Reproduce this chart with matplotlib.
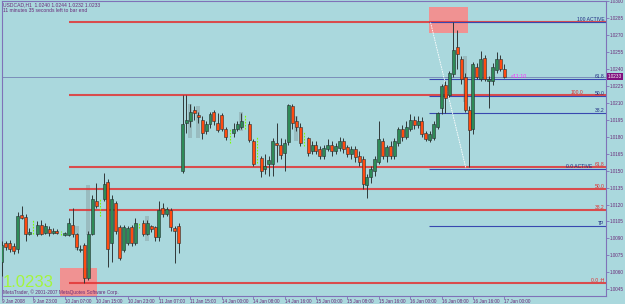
import matplotlib
matplotlib.use('Agg')
import matplotlib.pyplot as plt
from matplotlib.patches import Rectangle

# USDCAD H1 bars, 9 Jan 15:00 .. 17 Jan 00:00
opens = [1.0069, 1.0086, 1.0086, 1.0083, 1.0081, 1.0111, 1.0109, 1.0094, 1.0095, 1.0094,
         1.0102, 1.0095, 1.0098, 1.0095, 1.0097, 1.0095, 1.0093, 1.0093, 1.0102, 1.0094,
         1.0080, 1.0084, 1.0055, 1.0094, 1.0123, 1.0120, 1.0125, 1.0140, 1.0086, 1.0121,
         1.0100, 1.0080, 1.0086, 1.0100, 1.0086, 1.0101, 1.0104, 1.0094, 1.0101, 1.0100,
         1.0091, 1.0117, 1.0112, 1.0115, 1.0099, 1.0101, 1.0150, 1.0192, 1.0194, 1.0204,
         1.0199, 1.0195, 1.0185, 1.0191, 1.0202, 1.0192, 1.0199, 1.0187, 1.0181, 1.0183,
         1.0187, 1.0189, 1.0194, 1.0191, 1.0176, 1.0160, 1.0161, 1.0151, 1.0156, 1.0156,
         1.0174, 1.0173, 1.0166, 1.0175, 1.0207, 1.0194, 1.0189, 1.0180, 1.0179, 1.0167,
         1.0173, 1.0169, 1.0163, 1.0169, 1.0173, 1.0167, 1.0170, 1.0176, 1.0171, 1.0165,
         1.0169, 1.0163, 1.0160, 1.0137, 1.0144, 1.0150, 1.0158, 1.0176, 1.0163, 1.0172,
         1.0163, 1.0174, 1.0187, 1.0180, 1.0187, 1.0195, 1.0190, 1.0194, 1.0183, 1.0177,
         1.0179, 1.0189, 1.0205, 1.0226, 1.0217, 1.0235, 1.0259, 1.0249, 1.0233, 1.0204,
         1.0187, 1.0242, 1.0231, 1.0250, 1.0229, 1.0229, 1.0239, 1.0249, 1.0240]
highs = [1.0088, 1.0088, 1.0089, 1.0086, 1.0113, 1.0119, 1.0112, 1.0099, 1.0107, 1.0105,
         1.0106, 1.0104, 1.0101, 1.0099, 1.0098, 1.0097, 1.0096, 1.0108, 1.0117, 1.0095,
         1.0084, 1.0086, 1.0097, 1.0128, 1.0139, 1.0125, 1.0148, 1.0143, 1.0128, 1.0123,
         1.0102, 1.0102, 1.0101, 1.0102, 1.0108, 1.0104, 1.0106, 1.0106, 1.0102, 1.0101,
         1.0123, 1.0121, 1.0118, 1.0117, 1.0101, 1.0104, 1.0217, 1.0217, 1.0209, 1.0207,
         1.0202, 1.0198, 1.0194, 1.0202, 1.0204, 1.0201, 1.0201, 1.0189, 1.0187, 1.0192,
         1.0194, 1.0201, 1.0200, 1.0194, 1.0178, 1.0180, 1.0163, 1.0165, 1.0163, 1.0179,
         1.0192, 1.0179, 1.0178, 1.0209, 1.0209, 1.0198, 1.0192, 1.0185, 1.0180, 1.0176,
         1.0176, 1.0172, 1.0173, 1.0178, 1.0176, 1.0174, 1.0180, 1.0179, 1.0173, 1.0172,
         1.0172, 1.0167, 1.0163, 1.0147, 1.0154, 1.0163, 1.0194, 1.0179, 1.0173, 1.0176,
         1.0179, 1.0189, 1.0190, 1.0194, 1.0200, 1.0198, 1.0198, 1.0197, 1.0185, 1.0185,
         1.0194, 1.0202, 1.0227, 1.0229, 1.0238, 1.0281, 1.0274, 1.0251, 1.0236, 1.0207,
         1.0246, 1.0245, 1.0256, 1.0252, 1.0234, 1.0245, 1.0255, 1.0252, 1.0244]
lows = [1.0057, 1.0080, 1.0078, 1.0076, 1.0077, 1.0107, 1.0088, 1.0093, 1.0094, 1.0092,
        1.0093, 1.0094, 1.0092, 1.0094, 1.0094, 1.0093, 1.0092, 1.0092, 1.0091, 1.0080,
        1.0078, 1.0051, 1.0053, 1.0093, 1.0117, 1.0110, 1.0123, 1.0065, 1.0069, 1.0094,
        1.0071, 1.0078, 1.0084, 1.0083, 1.0084, 1.0099, 1.0092, 1.0093, 1.0096, 1.0088,
        1.0088, 1.0109, 1.0110, 1.0097, 1.0068, 1.0077, 1.0148, 1.0183, 1.0189, 1.0195,
        1.0192, 1.0178, 1.0182, 1.0188, 1.0190, 1.0184, 1.0185, 1.0177, 1.0174, 1.0180,
        1.0185, 1.0187, 1.0187, 1.0175, 1.0154, 1.0157, 1.0144, 1.0147, 1.0145, 1.0145,
        1.0158, 1.0160, 1.0150, 1.0173, 1.0187, 1.0185, 1.0172, 1.0172, 1.0163, 1.0165,
        1.0165, 1.0160, 1.0160, 1.0167, 1.0163, 1.0165, 1.0167, 1.0166, 1.0162, 1.0160,
        1.0158, 1.0154, 1.0134, 1.0126, 1.0139, 1.0145, 1.0156, 1.0160, 1.0158, 1.0160,
        1.0160, 1.0172, 1.0176, 1.0178, 1.0185, 1.0187, 1.0188, 1.0180, 1.0176, 1.0175,
        1.0177, 1.0187, 1.0200, 1.0201, 1.0215, 1.0233, 1.0240, 1.0227, 1.0202, 1.0153,
        1.0182, 1.0231, 1.0229, 1.0229, 1.0205, 1.0226, 1.0236, 1.0238, 1.0232]
closes = [1.0084, 1.0082, 1.0081, 1.0079, 1.0110, 1.0108, 1.0094, 1.0096, 1.0095, 1.0102,
          1.0094, 1.0101, 1.0095, 1.0097, 1.0095, 1.0095, 1.0095, 1.0104, 1.0094, 1.0082,
          1.0081, 1.0055, 1.0094, 1.0125, 1.0119, 1.0120, 1.0138, 1.0081, 1.0125, 1.0097,
          1.0073, 1.0100, 1.0099, 1.0086, 1.0104, 1.0101, 1.0094, 1.0104, 1.0098, 1.0091,
          1.0115, 1.0112, 1.0116, 1.0100, 1.0097, 1.0086, 1.0191, 1.0195, 1.0202, 1.0201,
          1.0197, 1.0183, 1.0191, 1.0200, 1.0194, 1.0186, 1.0187, 1.0180, 1.0181, 1.0187,
          1.0191, 1.0194, 1.0194, 1.0177, 1.0156, 1.0160, 1.0150, 1.0154, 1.0159, 1.0176,
          1.0173, 1.0164, 1.0174, 1.0208, 1.0192, 1.0189, 1.0174, 1.0180, 1.0166, 1.0173,
          1.0167, 1.0163, 1.0170, 1.0173, 1.0167, 1.0172, 1.0176, 1.0169, 1.0165, 1.0169,
          1.0162, 1.0158, 1.0138, 1.0144, 1.0151, 1.0160, 1.0178, 1.0163, 1.0171, 1.0163,
          1.0176, 1.0187, 1.0180, 1.0189, 1.0195, 1.0190, 1.0194, 1.0182, 1.0178, 1.0182,
          1.0191, 1.0201, 1.0225, 1.0214, 1.0236, 1.0257, 1.0253, 1.0231, 1.0204, 1.0186,
          1.0244, 1.0233, 1.0249, 1.0231, 1.0231, 1.0242, 1.0249, 1.0240, 1.0233]

# faint grey "shadow" bars seen behind some candles
ghost_idx = [19, 22, 37, 48, 50, 61, 75, 118]
ghost_hi = [1.0101, 1.0137, 1.0110, 1.0209, 1.0207, 1.0202, 1.0198, 1.0251]
ghost_lo = [1.0080, 1.0093, 1.0088, 1.0179, 1.0179, 1.0185, 1.0176, 1.0211]

time_idx = [0, 8, 16, 24, 32, 40, 48, 56, 64, 72, 80, 88, 96, 104, 112, 120, 128]
time_labels = ['9 Jan 2008', '9 Jan 23:00', '10 Jan 07:00', '10 Jan 15:00', '10 Jan 23:00',
               '11 Jan 07:00', '11 Jan 15:00', '14 Jan 00:00', '14 Jan 08:00', '14 Jan 16:00',
               '15 Jan 00:00', '15 Jan 08:00', '15 Jan 16:00', '16 Jan 00:00', '16 Jan 08:00',
               '16 Jan 16:00', '17 Jan 00:00']
price_ticks = [1.0045, 1.0060, 1.0075, 1.0090, 1.0105, 1.0120, 1.0135, 1.0150, 1.0165,
               1.0180, 1.0195, 1.0210, 1.0225, 1.0240, 1.0255, 1.0270, 1.0285, 1.0300]

# fibo objects (the red 138.2 caption sits hidden under "100 ACTIVE")
red_start = 17
red_levels = [1.0281, 1.0217, 1.0153, 1.0134, 1.0115, 1.0051]
red_names = ['', '100.0', '61.8', '50.0', '38.2', '0.0 :H']
blue_start = 108.8
blue_levels = [1.0281, 1.0231, 1.0216, 1.0201, 1.0151, 1.0101]
blue_names = ['100 ACTIVE', '61.8', '50.0', '38.2', '0.0 ACTIVE', 'TP']
fib_anchor_x = [109.2, 118.2]
fib_anchor_p = [1.0281, 1.0152]

# highlighted rectangles
zone_x0 = [108.8, 14.9]
zone_x1 = [118.8, 24.1]
zone_lo = [1.0272, 1.0030]
zone_hi = [1.0295, 1.0064]

bid = 1.0233

bg = '#aad8dd'
fg = '#6a2a78'
plt.rcParams['font.family'] = ['Liberation Sans', 'DejaVu Sans']

fig = plt.figure(figsize=(6.25, 3.04), dpi=100, facecolor=bg)
ax = fig.add_axes([2 / 625, 8 / 304, 604 / 625, 295 / 304], facecolor=bg)
ax.set_xlim(0.13, 153.9)
ax.set_ylim(1.00391, 1.02981)

for x0, x1, lo, hi in zip(zone_x0, zone_x1, zone_lo, zone_hi):
    ax.add_patch(Rectangle((x0, lo), x1 - x0, hi - lo, facecolor='#f09292',
                           edgecolor='none', zorder=1))

for i, lo, hi in zip(ghost_idx, ghost_lo, ghost_hi):
    ax.add_patch(Rectangle((i - 0.5, lo), 1.0, hi - lo, facecolor='#7a8a8c',
                           alpha=0.35, edgecolor='none', zorder=1.5))

# bid line
ax.axhline(bid, color='#7482b4', lw=0.6, zorder=1.6)

for lvl in red_levels:
    ax.hlines(lvl, red_start, 153.9, color='#e23434', lw=1.5, alpha=0.85, zorder=2)
for lvl in blue_levels:
    ax.hlines(lvl, blue_start, 153.9, color='#3848b0', lw=0.8, zorder=2.1)

ax.plot(fib_anchor_x, fib_anchor_p, color='white', lw=0.6, ls=(0, (2, 1)), zorder=2.2)

for i, (o, h, l, c) in enumerate(zip(opens, highs, lows, closes)):
    if o == c:
        ax.vlines(i, l, h, color='#7cfc00', lw=0.8, ls=(0, (1.5, 1.2)), zorder=3)
        continue
    ax.vlines(i, l, h, color='#303838', lw=0.7, zorder=3)
    col = '#2e8b57' if c > o else '#ff4a10'
    ax.add_patch(Rectangle((i - 0.38, min(o, c)), 0.76, abs(c - o), facecolor=col,
                           edgecolor='#253030', lw=0.4, zorder=4))

# level captions
ytr = ax.get_yaxis_transform()
for lvl, name in zip(red_levels, red_names):
    if name:
        ax.text(0.962 if name == '100.0' else 0.997, lvl, name, transform=ytr,
                ha='right', va='bottom', fontsize=3.6, color='#e02a2a', zorder=5)
for lvl, name in zip(blue_levels, blue_names):
    ax.text(0.977 if name == '0.0 ACTIVE' else 0.997, lvl, name, transform=ytr,
            ha='right', va='bottom', fontsize=3.6, color='#1e2a80', zorder=5)

ax.text(129.6, bid + 0.00005, '<11:10', fontsize=3.8, color='#ff28ff', va='center', zorder=5)

# axes / ticks
for s in ax.spines.values():
    s.set_color('#7f72b8')
    s.set_linewidth(0.8)
ax.yaxis.tick_right()
ax.set_yticks(price_ticks)
ax.set_yticklabels(['%.4f' % p for p in price_ticks])
ax.set_xticks(time_idx)
ax.set_xticklabels(time_labels, ha='left')
ax.tick_params(axis='y', colors='#7f72b8', labelcolor=fg, labelsize=3.3, length=2, width=0.6, pad=1)
ax.tick_params(axis='x', colors='#7f72b8', labelcolor=fg, labelsize=3.3, length=2, width=0.6, pad=0.5)

# bid marker on the price scale
ax.text(1.003, bid, '%.4f' % bid, transform=ytr, ha='left', va='center',
        fontsize=3.3, color='white', zorder=6,
        bbox=dict(boxstyle='square,pad=0.25', facecolor='#80107e', edgecolor='none'))

fig.text(3 / 625, 1 - 5 / 304, 'USDCAD,H1  1.0240 1.0244 1.0232 1.0233', fontsize=3.6,
         color=fg, va='center')
fig.text(3 / 625, 1 - 11 / 304, '11 minutes 35 seconds left to bar end', fontsize=3.6,
         color=fg, va='center')
fig.text(3 / 625, 1 - 287 / 304, '1.0233', fontsize=12, color='#a4f53c', va='baseline')
fig.text(3 / 625, 1 - 292 / 304, 'MetaTrader, \u00a9 2001-2007 MetaQuotes Software Corp.',
         fontsize=3.4, color=fg, va='center')

fig.savefig('out.png', dpi=100, facecolor=bg)
